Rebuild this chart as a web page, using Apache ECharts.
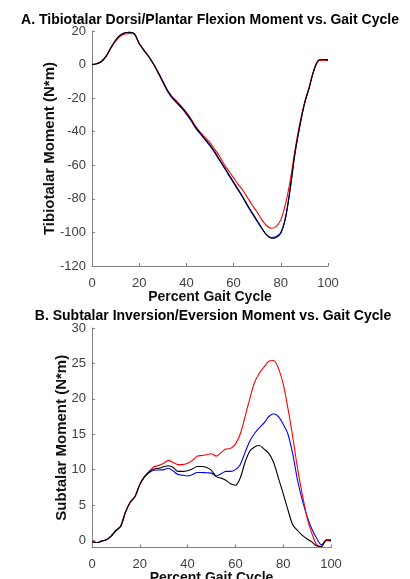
<!DOCTYPE html>
<html>
<head>
<meta charset="utf-8">
<script src="https://cdn.jsdelivr.net/npm/echarts@6/dist/echarts.min.js"></script>
<style>
html,body{margin:0;padding:0;background:#fff;}
#chart{width:410px;height:579px;}
</style>
</head>
<body>
<div id="chart"></div>
<script>
// Percent gait cycle sample points (shared by all series)
const pct = [0,2,4,6,8,10,12,14,16,18,20,22,24,26,28,30,32,34,36,38,40,42,44,46,48,50,52,54,56,58,60,62,64,66,68,70,72,74,76,78,80,82,84,86,88,90,92,94,96,98,100];

// A. Tibiotalar moment (N*m)
const tibBlack = [0,0.5,1.8,5,10,14.5,17.5,19,19.3,18.3,12.5,8.5,4.8,0.5,-4.5,-10,-15.5,-19.5,-22.5,-25.5,-29,-33,-37.5,-41,-44.5,-48,-52,-56.5,-61,-65.5,-70,-74.5,-79,-84,-88.5,-93,-97.5,-101.5,-103.5,-103,-100.5,-91.5,-74,-53,-37,-23.5,-14,-3.5,2.5,3,2.8];
const tibBlue  = [0,0.5,1.8,5,10,14.5,17.5,19,19.3,18.3,12.5,8.5,4.8,0.3,-5,-10.5,-16,-20,-23,-26,-29.5,-33.5,-38,-41.5,-45,-48.5,-52.5,-57,-61.5,-66,-70.5,-75,-79.5,-84.5,-89,-93.5,-97.8,-101.5,-103,-102.5,-100,-91,-73.5,-53,-37,-23.5,-14,-3.5,2.5,3,2.8];
const tibRed   = [0,0.5,1.8,5,9.8,14,17,18.2,18.5,18,12.5,8.5,4.8,0.5,-4.5,-10,-15.3,-19.2,-22,-25,-28.5,-32.5,-37,-40.5,-43.5,-46.5,-50.5,-54.5,-59.5,-63.5,-67.5,-71.5,-75,-79.5,-84,-88,-92.5,-96,-97.5,-96.5,-92.5,-83,-69,-51,-35.5,-23,-13.5,-3.5,2.5,2.6,2.4];

// B. Subtalar moment (N*m)
const subBlack = [-0.2,-0.3,-0.1,0.1,0.6,1.4,2.0,4.0,5.4,6.2,7.9,9.0,9.7,10.1,10.2,10.4,10.55,10.3,9.75,9.75,9.85,10.1,10.45,10.45,10.3,9.9,9.0,8.8,8.5,8.0,7.8,8.8,11.0,12.6,13.2,13.4,12.9,12.3,11.0,8.8,6.6,4.3,2.2,1.4,0.7,0.2,-0.2,-0.8,-0.85,0.1,0.0];
const subBlue  = [-0.2,-0.3,-0.1,0.1,0.6,1.4,2.0,4.0,5.4,6.2,7.9,9.0,9.6,9.9,9.95,10.0,10.2,9.8,9.3,9.2,9.1,9.3,9.6,9.6,9.55,9.5,9.1,9.4,9.75,9.75,10.0,10.7,12.4,14.0,15.1,15.9,16.6,17.5,17.9,17.5,16.4,15.0,12.2,8.5,5.7,3.4,1.6,0.3,-0.6,0.0,0.1];
const subRed   = [-0.2,-0.3,-0.1,0.1,0.6,1.4,2.0,4.0,5.4,6.2,7.9,9.0,9.8,10.4,10.6,10.9,11.3,11.0,10.7,10.7,10.9,11.3,11.9,12.0,12.1,12.25,11.9,12.4,12.9,13.0,13.6,15.0,17.4,20.0,22.3,23.6,24.5,25.3,25.4,24.3,22.1,18.6,14.6,10.2,6.5,3.2,1.0,-0.6,-0.85,0.0,-0.1];

// Tick labels
const xTicks = [0,20,40,60,80,100];
const tibTicks = [-120,-100,-80,-60,-40,-20,0,20];
const subTicks = [0,5,10,15,20,25,30];

const titleA = 'A. Tibiotalar Dorsi/Plantar Flexion Moment vs. Gait Cycle';
const titleB = 'B. Subtalar Inversion/Eversion Moment vs. Gait Cycle';
const xName = 'Percent Gait Cycle';
const yNameA = 'Tibiotalar Moment (N*m)';
const yNameB = 'Subtalar Moment (N*m)';

const FONT = 'Liberation Sans, Arial, sans-serif';
const pairs = (ys) => pct.map((x, i) => [x, ys[i]]);

const axisLine = {show: true, onZero: false, lineStyle: {color: '#808080', width: 1}};
const axisTick = {show: true, inside: true, length: 3, lineStyle: {color: '#808080'}};
const labelStyle = {color: '#404040', fontSize: 13, fontFamily: FONT};
const nameStyle = {color: '#111', fontSize: 14, fontWeight: 'bold', fontFamily: FONT};

function xAxis(gridIndex, margin, gap) {
  return {
    type: 'value', gridIndex, min: xTicks[0], max: xTicks[xTicks.length - 1], interval: 20,
    axisLine, axisTick, splitLine: {show: false},
    axisLabel: Object.assign({margin}, labelStyle),
    name: xName, nameLocation: 'middle', nameGap: gap, nameMoveOverlap: false,
    nameTextStyle: nameStyle
  };
}

function line(name, ys, color, xi) {
  return {
    type: 'line', name, data: pairs(ys), xAxisIndex: xi, yAxisIndex: xi,
    showSymbol: false, symbol: 'none', smooth: 0.3,
    lineStyle: {color, width: 1.1}, itemStyle: {color},
    animation: false
  };
}

const chart = echarts.init(document.getElementById('chart'), null, {renderer: 'canvas'});
chart.setOption({
  backgroundColor: '#ffffff',
  animation: false,
  title: [
    {text: titleA, left: 205, top: 8, textAlign: 'center',
     textStyle: {fontSize: 14, fontWeight: 'bold', color: '#000', fontFamily: FONT}},
    {text: titleB, left: 208, top: 304, textAlign: 'center',
     textStyle: {fontSize: 14, fontWeight: 'bold', color: '#000', fontFamily: FONT}}
  ],
  grid: [
    {left: 92, top: 31, width: 236, height: 235, containLabel: false, outerBoundsMode: 'none'},
    {left: 92, top: 328, width: 239, height: 219.5, containLabel: false, outerBoundsMode: 'none'}
  ],
  xAxis: [xAxis(0, 11, 24), xAxis(1, 10, 24)],
  yAxis: [
    {type: 'value', gridIndex: 0, min: tibTicks[0], max: tibTicks[tibTicks.length - 1], interval: 20,
     axisLine, axisTick, splitLine: {show: false},
     axisLabel: Object.assign({margin: 6}, labelStyle),
     name: yNameA, nameLocation: 'middle', nameRotate: 90, nameGap: 35, nameMoveOverlap: false,
     nameTextStyle: Object.assign({}, nameStyle, {fontSize: 15})},
    {type: 'value', gridIndex: 1, min: -1, max: subTicks[subTicks.length - 1],
     axisLine,
     axisTick: Object.assign({customValues: subTicks}, axisTick),
     splitLine: {show: false},
     axisLabel: Object.assign({margin: 6, customValues: subTicks}, labelStyle),
     name: yNameB, nameLocation: 'middle', nameRotate: 90, nameGap: 23, nameMoveOverlap: false,
     nameTextStyle: Object.assign({}, nameStyle, {fontSize: 15})}
  ],
  series: [
    line('Blue', tibBlue, '#0000ff', 0),
    line('Red', tibRed, '#ff0000', 0),
    line('Black', tibBlack, '#000000', 0),
    line('Blue', subBlue, '#0000ff', 1),
    line('Red', subRed, '#ff0000', 1),
    line('Black', subBlack, '#000000', 1)
  ]
});
</script>
</body>
</html>
